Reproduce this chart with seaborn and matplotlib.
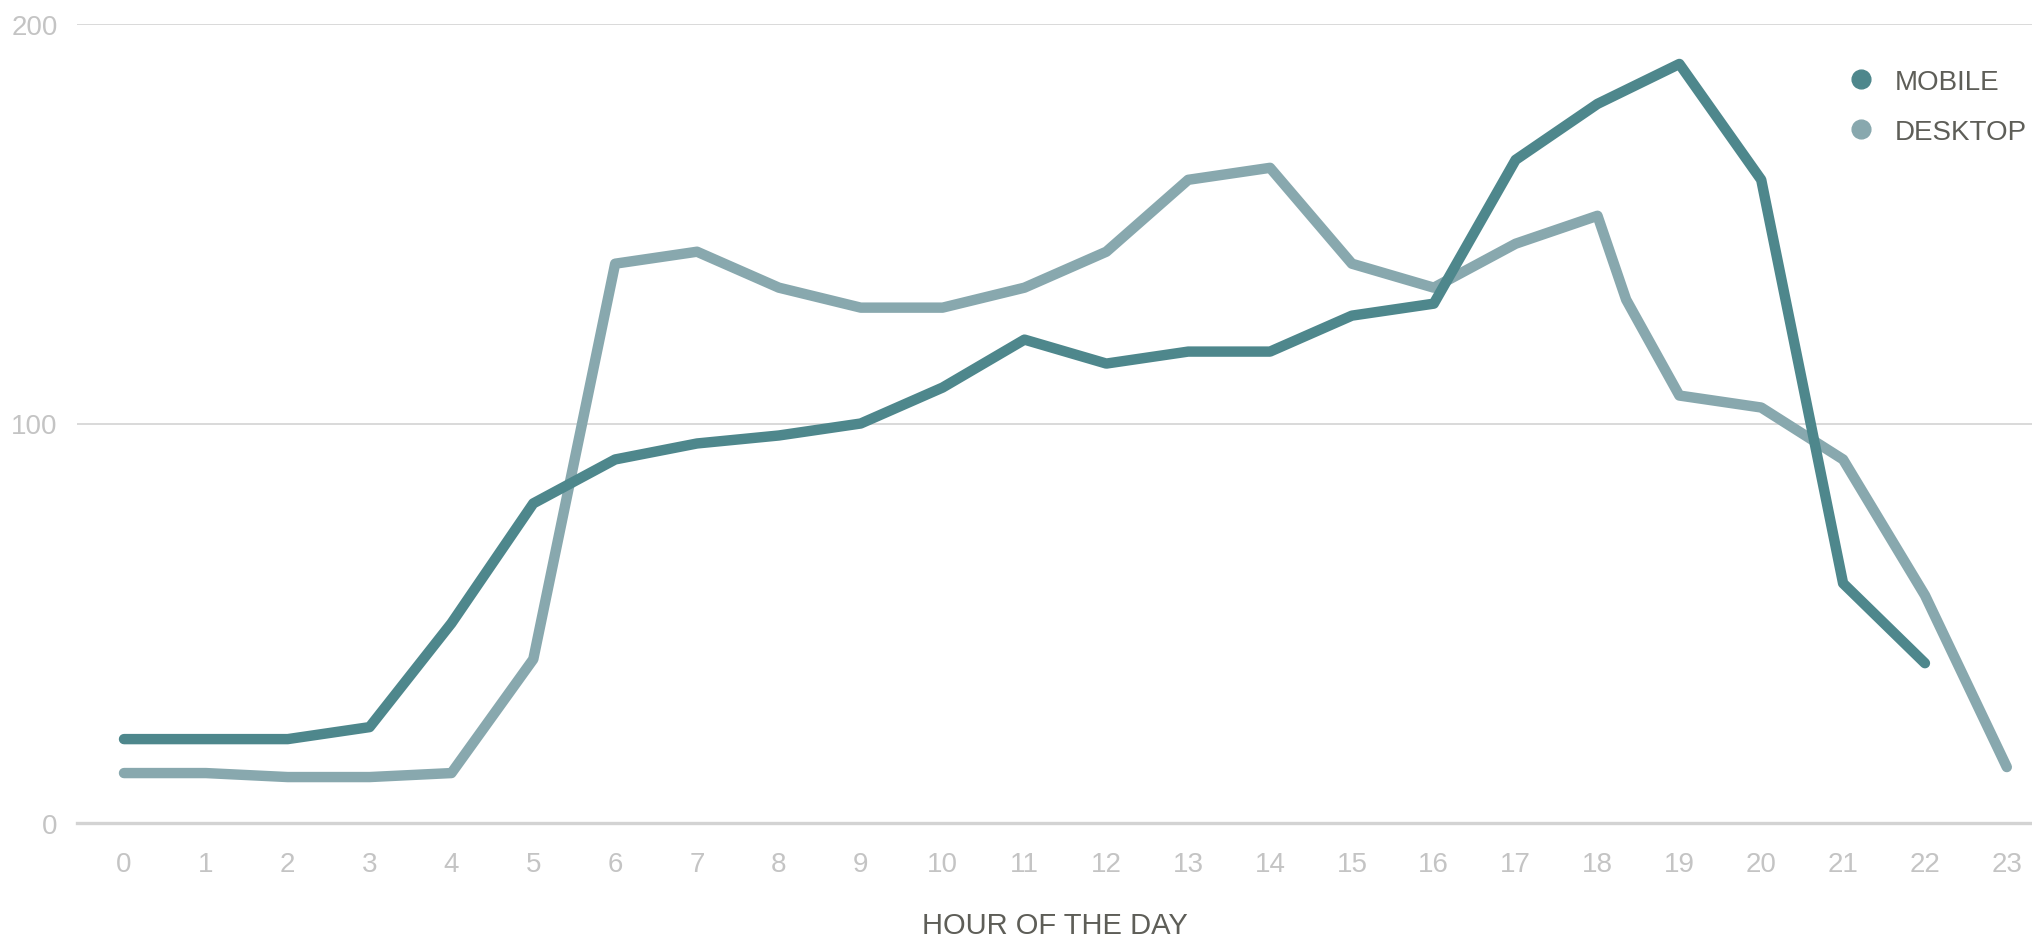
import matplotlib
matplotlib.use("Agg")
import matplotlib.pyplot as plt
from matplotlib.lines import Line2D
import seaborn as sns
import pandas as pd

# hourly sessions by device
mobile_hours = list(range(0, 23))
mobile_values = [21, 21, 21, 24, 50, 80, 91, 95, 97, 100, 109, 121, 115, 118,
                 118, 127, 130, 166, 180, 190, 161, 60, 40]

desktop_hours = list(range(0, 19)) + [18.35] + list(range(19, 24))
desktop_values = [12.5, 12.5, 11.5, 11.5, 12.5, 41, 140, 143, 134, 129, 129, 134,
                  143, 161, 164, 140, 134, 145, 152, 131, 107, 104, 91, 57, 14]

x_ticks = list(range(0, 24))
y_ticks = [0, 100, 200]

mobile_color = "#4e878c"
desktop_color = "#88a8ae"
tick_color = "#c4c4c4"
text_color = "#5e5e58"

df = pd.concat([
    pd.DataFrame({"hour": mobile_hours, "value": mobile_values, "device": "MOBILE"}),
    pd.DataFrame({"hour": desktop_hours, "value": desktop_values, "device": "DESKTOP"}),
])

sns.set_style("white")
plt.rcParams["font.family"] = ["Liberation Sans", "DejaVu Sans"]

fig = plt.figure(figsize=(20.33, 9.37), dpi=100)
ax = fig.add_axes([77 / 2033, 1 - 824 / 937, 1 - 77 / 2033, (824 - 25) / 937])

sns.lineplot(data=df, x="hour", y="value", hue="device",
             palette={"MOBILE": mobile_color, "DESKTOP": desktop_color},
             hue_order=["DESKTOP", "MOBILE"], sort=True, linewidth=7.5,
             solid_capstyle="round", solid_joinstyle="round",
             legend=False, ax=ax, zorder=3)

ax.set_xlim(-0.574, 23.32)
ax.set_ylim(0, 200)
ax.set_xticks(x_ticks)
ax.set_yticks(y_ticks)
ax.tick_params(axis="both", length=0, labelsize=20, labelcolor=tick_color)
ax.tick_params(axis="x", pad=20)
ax.tick_params(axis="y", pad=14)

ax.grid(axis="y", color="#d9d9d9", linewidth=1.4)
ax.grid(axis="x", visible=False)
for side in ["top", "right", "left"]:
    ax.spines[side].set_visible(False)
ax.spines["bottom"].set_color("#d3d3d3")
ax.spines["bottom"].set_linewidth(2.4)

ax.set_ylabel("")
ax.set_xlabel("HOUR OF THE DAY", fontsize=21, color=text_color, labelpad=25)

handles = [
    Line2D([], [], marker="o", linestyle="", markersize=13.5,
           color=mobile_color, label="MOBILE"),
    Line2D([], [], marker="o", linestyle="", markersize=13.5,
           color=desktop_color, label="DESKTOP"),
]
leg = ax.legend(handles=handles, loc="upper left",
                bbox_to_anchor=(1850 / 2033, 1 - 70 / 937),
                bbox_transform=fig.transFigure, frameon=False,
                fontsize=20, labelcolor=text_color, handlelength=0.8,
                handletextpad=0.8, labelspacing=0.85, borderpad=0,
                borderaxespad=0)

fig.savefig("out.png", dpi=100)
